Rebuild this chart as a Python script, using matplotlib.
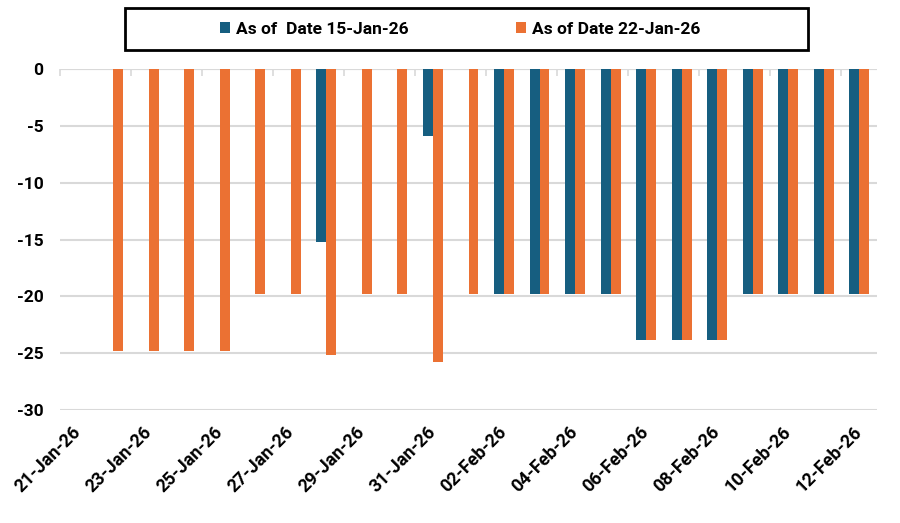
import matplotlib
matplotlib.use('Agg')
import matplotlib.pyplot as plt
from matplotlib.patches import Rectangle
import numpy as np

# Daily values, 21-Jan-26 .. 12-Feb-26 (0 = no bar)
dates = ['21-Jan-26', '22-Jan-26', '23-Jan-26', '24-Jan-26', '25-Jan-26', '26-Jan-26',
         '27-Jan-26', '28-Jan-26', '29-Jan-26', '30-Jan-26', '31-Jan-26', '01-Feb-26',
         '02-Feb-26', '03-Feb-26', '04-Feb-26', '05-Feb-26', '06-Feb-26', '07-Feb-26',
         '08-Feb-26', '09-Feb-26', '10-Feb-26', '11-Feb-26', '12-Feb-26']
asof_15jan = [0, 0, 0, 0, 0, 0, 0, -15.2, 0, 0, -5.9, 0,
              -19.8, -19.8, -19.8, -19.8, -23.8, -23.8, -23.8, -19.8, -19.8, -19.8, -19.8]
asof_22jan = [0, -24.8, -24.8, -24.8, -24.8, -19.8, -19.8, -25.2, -19.8, -19.8, -25.8, -19.8,
              -19.8, -19.8, -19.8, -19.8, -23.8, -23.8, -23.8, -19.8, -19.8, -19.8, -19.8]
series_names = ['As of  Date 15-Jan-26', 'As of Date 22-Jan-26']
colors = ['#165E80', '#EB7133']
y_ticks = [0, -5, -10, -15, -20, -25, -30]

W, H = 900, 523
fig = plt.figure(figsize=(W / 100, H / 100), dpi=100)
ax = fig.add_axes([60 / W, (H - 410) / H, (877 - 60) / W, (410 - 69) / H])

x = np.arange(len(dates))
bw = 0.28
ax.bar(x - bw / 2, asof_15jan, width=bw, color=colors[0], label=series_names[0], zorder=3)
ax.bar(x + bw / 2, asof_22jan, width=bw, color=colors[1], label=series_names[1], zorder=3)

ax.set_xlim(-0.5, len(dates) - 0.5)
ax.set_ylim(-30, 0)
ax.set_yticks(y_ticks)
ax.set_yticklabels([str(v) for v in y_ticks], fontfamily='Roboto', fontweight='bold', fontsize=12.5)
ax.grid(axis='y', color='#D9D9D9', linewidth=1.5, zorder=0)
ax.tick_params(axis='y', length=0, pad=12)
for s in ax.spines.values():
    s.set_visible(False)

# date labels every 2 days at the bottom
ax.set_xticks(x[::2])
ax.set_xticklabels(dates[::2], rotation=45, ha='right', va='center', rotation_mode='anchor',
                   fontfamily='Roboto', fontweight='bold', fontsize=13)
ax.tick_params(axis='x', length=0, pad=14)

# category axis line at zero with tick marks
ax.axhline(0, color='#D9D9D9', linewidth=1.5, zorder=2)
top = ax.secondary_xaxis('top')
top.set_xticks(np.arange(-0.5, len(dates), 2))
top.set_xticklabels([])
top.tick_params(direction='in', length=5, width=1.2, color='#D9D9D9')
top.spines['top'].set_visible(False)

# legend with boxed frame
fig.patches.append(Rectangle((125 / W, (H - 50) / H), (808 - 125) / W, 42 / H,
                             transform=fig.transFigure, fill=False, edgecolor='black',
                             linewidth=2))
fig.legend(loc='center', bbox_to_anchor=(460 / W, (H - 29) / H), ncol=2, frameon=False,
           handlelength=0.6, handleheight=0.6, handletextpad=0.3, columnspacing=6.2,
           prop={'family': 'Roboto', 'weight': 'bold', 'size': 12.5})

fig.savefig('out.png', dpi=100)
